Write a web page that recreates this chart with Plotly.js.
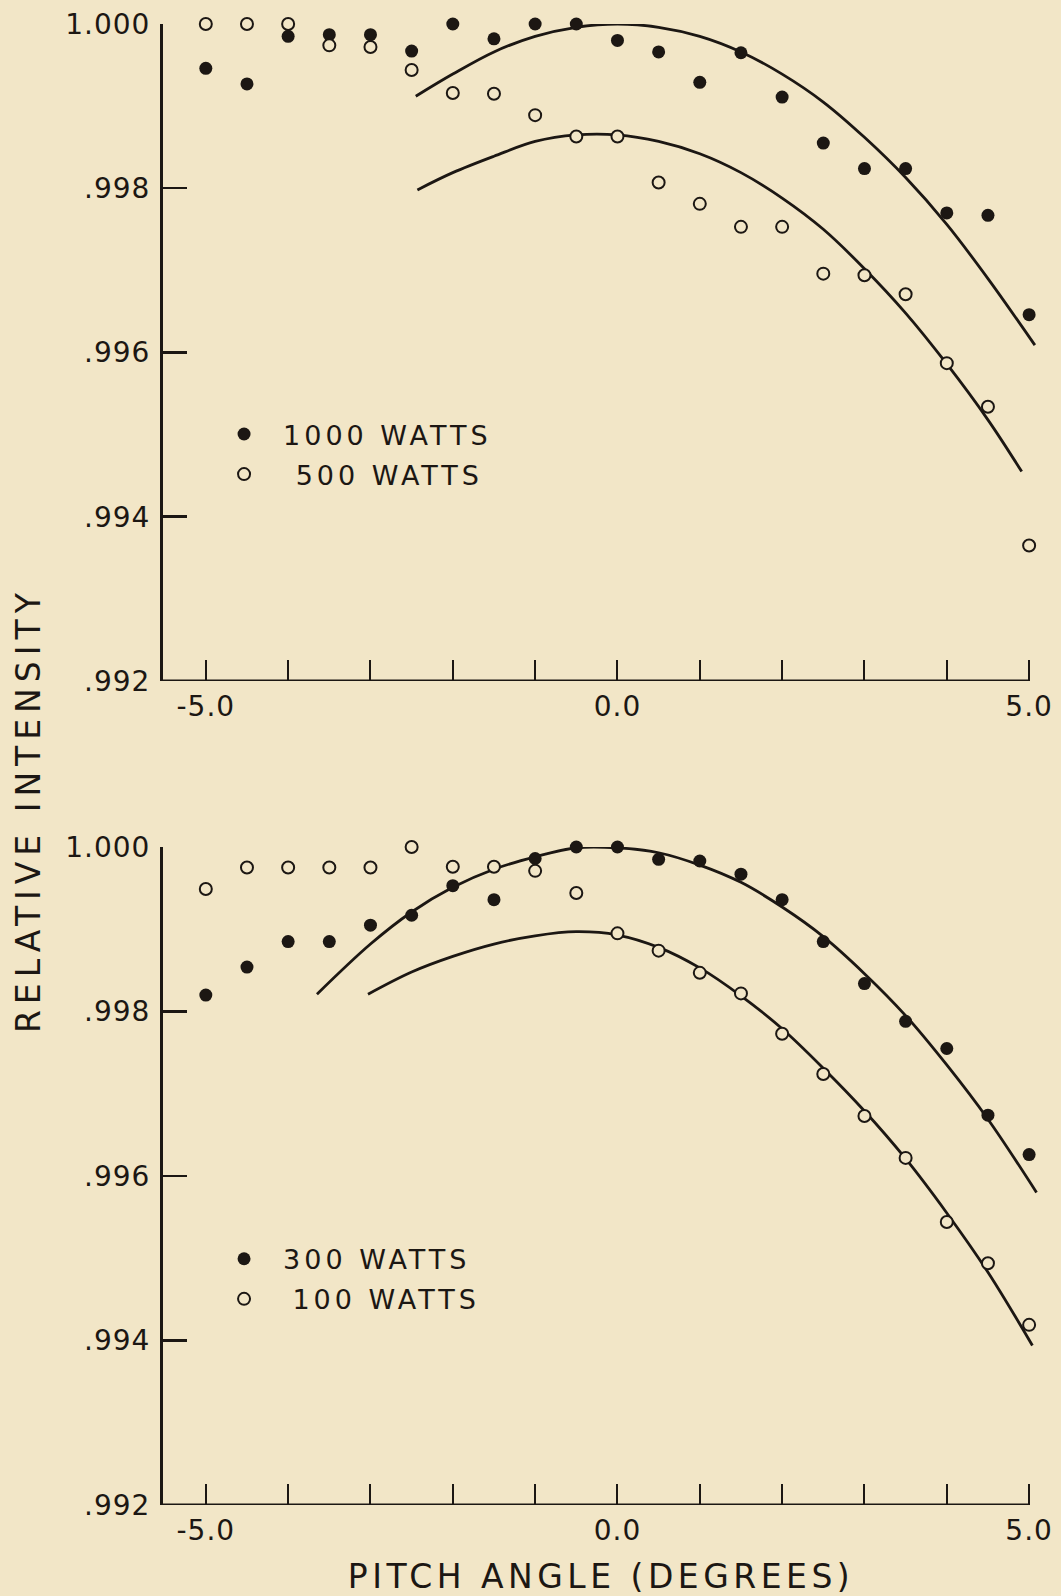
<!DOCTYPE html>
<html>
<head>
<meta charset="utf-8">
<script src="https://cdn.plot.ly/plotly-3.0.1.min.js"></script>
<style>
  html, body { margin: 0; padding: 0; background: #f2e6c7; }
  #chart { width: 1061px; height: 1596px; }
  #chart .legendtext, #chart g[class^="legend"] text { letter-spacing: 4px; }
  #chart g[class^="legend"] .scrollbox { clip-path: none !important; }
  #chart .annotation-text { letter-spacing: 6px; }
  #chart .x2title { letter-spacing: 4.5px; }
  #chart .xtick text, #chart .x2tick text, #chart .ytick text, #chart .y2tick text { letter-spacing: 1px; }
</style>
</head>
<body>
<div id="chart"></div>
<script>
// ---------- data ----------
var pitch = [-5.0, -4.5, -4.0, -3.5, -3.0, -2.5, -2.0, -1.5, -1.0, -0.5, 0.0,
             0.5, 1.0, 1.5, 2.0, 2.5, 3.0, 3.5, 4.0, 4.5, 5.0];

// top panel
var w1000 = [0.99946, 0.99927, 0.99985, 0.99987, 0.99987, 0.99967, 1.00000, 0.99982, 1.00000, 1.00000, 0.99980,
             0.99966, 0.99929, 0.99965, 0.99911, 0.99855, 0.99824, 0.99824, 0.99770, 0.99767, 0.99646];
var w500  = [1.00000, 1.00000, 1.00000, 0.99974, 0.99972, 0.99944, 0.99916, 0.99915, 0.99889, 0.99863, 0.99863,
             0.99807, 0.99781, 0.99753, 0.99753, 0.99696, 0.99694, 0.99671, 0.99587, 0.99534, 0.99365];

// bottom panel
var w300  = [0.99820, 0.99854, 0.99885, 0.99885, 0.99905, 0.99917, 0.99953, 0.99936, 0.99986, 1.00000, 1.00000,
             0.99985, 0.99983, 0.99967, 0.99936, 0.99885, 0.99834, 0.99788, 0.99755, 0.99674, 0.99626];
var w100  = [0.99949, 0.99975, 0.99975, 0.99975, 0.99975, 1.00000, 0.99976, 0.99976, 0.99971, 0.99944, 0.99895,
             0.99874, 0.99847, 0.99822, 0.99773, 0.99724, 0.99673, 0.99622, 0.99544, 0.99494, 0.99419];

// fitted curves
var fit1000X = [-2.45, -2.0, -1.5, -1.0, -0.5, 0.0, 0.5, 1.0, 1.5, 2.0, 2.5, 3.0, 3.5, 4.0, 4.5, 5.07];
var fit1000Y = [0.99912, 0.99939, 0.99966, 0.99985, 0.99996, 1.00000, 0.99996, 0.99985, 0.99966, 0.99939,
                0.99905, 0.99862, 0.99813, 0.99756, 0.99690, 0.99609];
var fit500X  = [-2.43, -2.0, -1.5, -1.0, -0.5, 0.0, 0.5, 1.0, 1.5, 2.0, 2.5, 3.0, 3.5, 4.0, 4.5, 4.91];
var fit500Y  = [0.99798, 0.99819, 0.99839, 0.99857, 0.99865, 0.99865, 0.99857, 0.99842, 0.99819, 0.99788,
                0.99750, 0.99702, 0.99648, 0.99586, 0.99518, 0.99455];
var fit300X  = [-3.65, -3.0, -2.5, -2.0, -1.5, -1.0, -0.5, 0.0, 0.5, 1.0, 1.5, 2.0, 2.5, 3.0, 3.5, 4.0, 4.5, 5.09];
var fit300Y  = [0.99821, 0.99882, 0.99921, 0.99951, 0.99973, 0.99988, 0.99999, 0.99999, 0.99993, 0.99978,
                0.99957, 0.99927, 0.99891, 0.99846, 0.99795, 0.99735, 0.99669, 0.99580];
var fit100X  = [-3.03, -2.5, -2.0, -1.5, -1.0, -0.5, 0.0, 0.5, 1.0, 1.5, 2.0, 2.5, 3.0, 3.5, 4.0, 4.5, 5.04];
var fit100Y  = [0.99821, 0.99848, 0.99867, 0.99882, 0.99892, 0.99897, 0.99893, 0.99878, 0.99853, 0.99819,
                0.99779, 0.99731, 0.99679, 0.99621, 0.99555, 0.99483, 0.99394];

var yTickVals = [0.992, 0.994, 0.996, 0.998, 1.000];
var yTickText = ['.992', '.994', '.996', '.998', '1.000'];
var xTickVals = [-5, -4, -3, -2, -1, 0, 1, 2, 3, 4, 5];
var xTickText = ['-5.0', '', '', '', '', '0.0', '', '', '', '', '5.0'];

var legendNames = ['1000 WATTS', '\u00a0500 WATTS', '300 WATTS', '\u2009100 WATTS'];
var xTitle = 'PITCH ANGLE (DEGREES)';
var yTitle = 'RELATIVE INTENSITY';

// ---------- styling ----------
var INK = '#1c1713';
var BG = '#f2e6c7';
var FONT = 'DejaVu Sans';

function curve(x, y, xa, ya) {
  return { x: x, y: y, xaxis: xa, yaxis: ya, mode: 'lines', type: 'scatter',
           line: { color: INK, width: 2.8, shape: 'spline', smoothing: 1 },
           showlegend: false, hoverinfo: 'skip' };
}
function filled(y, name, xa, ya, lg) {
  return { x: pitch, y: y, xaxis: xa, yaxis: ya, mode: 'markers', type: 'scatter', name: name,
           legend: lg, legendgroup: name,
           marker: { symbol: 'circle', size: 13, color: INK, line: { width: 0 } },
           cliponaxis: false };
}
function open(y, name, xa, ya, lg) {
  return { x: pitch, y: y, xaxis: xa, yaxis: ya, mode: 'markers', type: 'scatter', name: name,
           legend: lg, legendgroup: name,
           marker: { symbol: 'circle', size: 12, color: BG, line: { width: 2, color: INK } },
           cliponaxis: false };
}

var data = [
  curve(fit1000X, fit1000Y, 'x', 'y'),
  curve(fit500X, fit500Y, 'x', 'y'),
  curve(fit300X, fit300Y, 'x2', 'y2'),
  curve(fit100X, fit100Y, 'x2', 'y2'),
  filled(w1000, legendNames[0], 'x', 'y', 'legend'),
  open(w500, legendNames[1], 'x', 'y', 'legend'),
  filled(w300, legendNames[2], 'x2', 'y2', 'legend2'),
  open(w100, legendNames[3], 'x2', 'y2', 'legend2')
];

var tickFont = { family: FONT, size: 28, color: INK };

function xAxis(anchor) {
  return { anchor: anchor, range: [-5.52, 5.12], showgrid: false, zeroline: false, showline: false,
           tickmode: 'array', tickvals: xTickVals, ticktext: xTickText,
           ticks: 'inside', ticklen: 21, tickwidth: 2, tickcolor: INK,
           tickfont: tickFont, ticklabelstandoff: 6, fixedrange: true };
}
function yAxis(anchor, domain) {
  return { anchor: anchor, domain: domain, range: [0.992, 1.000], showgrid: false, zeroline: false,
           showline: true, linecolor: INK, linewidth: 3,
           tickmode: 'array', tickvals: yTickVals, ticktext: yTickText,
           ticks: 'inside', ticklen: 24, tickwidth: 2.5, tickcolor: INK,
           tickfont: tickFont, ticklabelstandoff: 4, fixedrange: true };
}

var xb = xAxis('y2');
xb.title = { text: xTitle, font: { family: FONT, size: 33, color: INK }, standoff: 26 };

var legendCommon = {
  font: { family: FONT, size: 27, color: INK }, bgcolor: 'rgba(0,0,0,0)',
  itemwidth: 68, traceorder: 'grouped', tracegroupgap: 2, xanchor: 'left', yanchor: 'top',
  itemclick: false, itemdoubleclick: false
};

var layout = {
  width: 1061, height: 1596,
  paper_bgcolor: BG, plot_bgcolor: BG,
  margin: { l: 163, r: 22, t: 24, b: 91 },
  showlegend: true,
  xaxis: xAxis('y'),
  yaxis: yAxis('x', [0.5564, 1]),
  xaxis2: xb,
  yaxis2: yAxis('x2', [0, 0.4443]),
  legend: Object.assign({}, legendCommon, { x: 0.048, y: 0.7394 }),
  legend2: Object.assign({}, legendCommon, { x: 0.048, y: 0.1825 }),
  shapes: [
    { type: 'line', xref: 'x', yref: 'y', x0: -5.52, x1: 5.0, y0: 0.992, y1: 0.992,
      line: { color: INK, width: 3 } },
    { type: 'line', xref: 'x2', yref: 'y2', x0: -5.52, x1: 5.0, y0: 0.992, y1: 0.992,
      line: { color: INK, width: 3 } }
  ],
  annotations: [
    { text: yTitle, xref: 'paper', yref: 'paper', x: -0.1535, y: 0.4696, xanchor: 'center', yanchor: 'middle',
      textangle: -90, showarrow: false, font: { family: FONT, size: 33, color: INK } }
  ]
};

Plotly.newPlot('chart', data, layout, { displayModeBar: false, staticPlot: true }).then(function (gd) {
  // widen the legend lettering like the original typesetting and keep it unclipped
  gd.querySelectorAll('text.legendtext').forEach(function (t) { t.style.letterSpacing = '4px'; });
  gd.querySelectorAll('g.scrollbox').forEach(function (g) { g.removeAttribute('clip-path'); });
});
</script>
</body>
</html>
